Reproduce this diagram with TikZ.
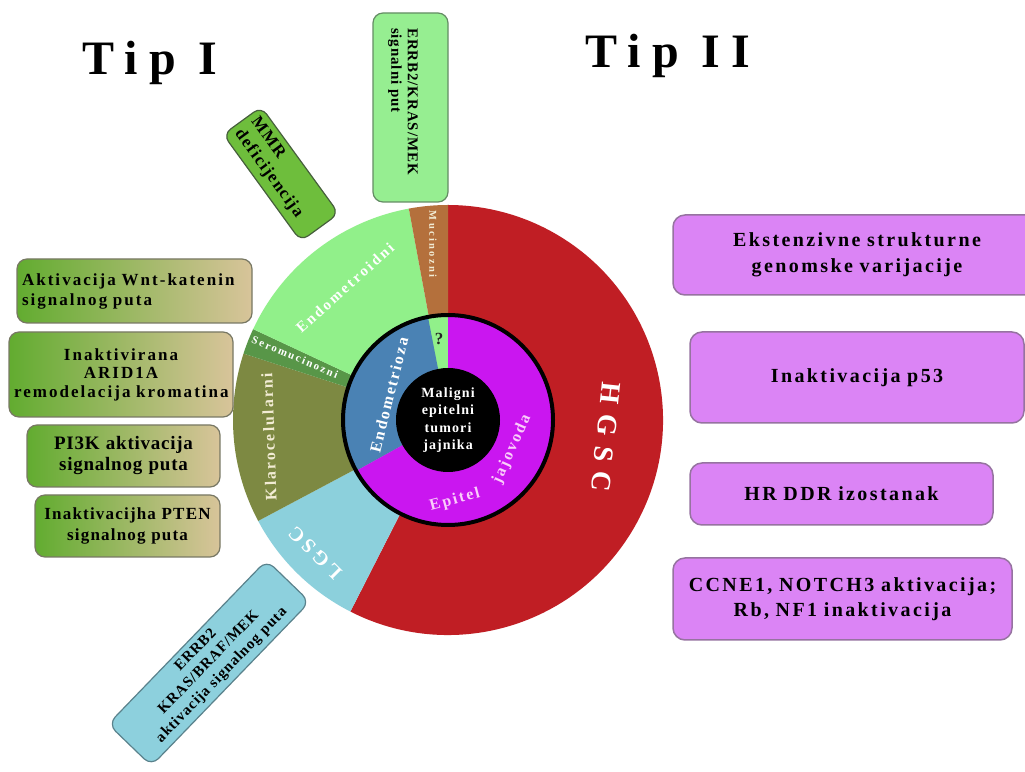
\documentclass[tikz,border=0pt]{standalone}
\usepackage{fontspec}
\setmainfont{Liberation Serif}
\newcommand\myfont[3]{\fontsize{#1}{#2}\selectfont\bfseries\addfontfeatures{LetterSpace=#3}}
\newcommand\mysector[4]{\fill[#1] (C) -- ++(#2:#4) arc[start angle=#2,end angle=#3,radius=#4] -- cycle;}
\definecolor{hgsc}{RGB}{192,30,36}
\definecolor{lgsc}{RGB}{140,208,220}
\definecolor{klaro}{RGB}{125,137,66}
\definecolor{sero}{RGB}{88,150,72}
\definecolor{endo}{RGB}{145,240,138}
\definecolor{muc}{RGB}{180,112,60}
\definecolor{endoz}{RGB}{74,130,180}
\definecolor{epit}{RGB}{202,22,240}
\definecolor{pinktxt}{RGB}{250,205,250}
\definecolor{creamtxt}{RGB}{242,236,212}
\definecolor{lgreen}{RGB}{98,172,48}
\definecolor{ltan}{RGB}{216,196,154}
\definecolor{lbord}{RGB}{120,120,100}
\definecolor{pbox}{RGB}{219,132,245}
\definecolor{pbord}{RGB}{150,115,160}
\definecolor{mmrfill}{RGB}{110,190,60}
\definecolor{mmrbord}{RGB}{70,95,60}
\definecolor{errfill}{RGB}{150,238,145}
\definecolor{errbord}{RGB}{100,140,100}
\definecolor{bluebox}{RGB}{141,208,221}
\definecolor{bluebord}{RGB}{90,130,140}
\begin{document}
\begin{tikzpicture}[x=1pt,y=1pt,
  leftbox/.style={draw=lbord, line width=1.2pt, rounded corners=10pt, left color=lgreen, right color=ltan, inner xsep=5pt, inner ysep=0pt, text=black},
  rightbox/.style={draw=pbord, line width=1.5pt, rounded corners=12pt, fill=pbox, inner xsep=5pt, inner ysep=0pt, align=center, font=\myfont{20}{26}{12}},
  ringtxt/.style={text=white, inner sep=0pt},
  title/.style={font=\myfont{48}{56}{23}, anchor=base, inner sep=0pt}]
\useasboundingbox (0,0) rectangle (1025,771);
\fill[white] (0,0) rectangle (1025,771);
\begin{scope}
\clip (0,0) rectangle (1025,771);
% titles
\node[title] (tip1) at (150,696) {Tip I};
\node[title] (tip2) at (668,703) {Tip II};
% outer ring
\coordinate (C) at (448,351);
\mysector{hgsc}{-117}{90}{215}
\mysector{lgsc}{208}{243}{215}
\mysector{klaro}{162}{208}{215}
\mysector{sero}{155}{162}{215}
\mysector{endo}{100.5}{155}{215}
\mysector{muc}{90}{100.5}{215}
% middle ring
\mysector{endo}{90}{101}{105}
\mysector{endoz}{101}{209}{105}
\mysector{epit}{209}{450}{105}
\draw[line width=4pt] (C) circle[radius=105];
\fill[black] (C) circle[radius=52];
% ring texts
\node[ringtxt, rotate=-96, font=\myfont{28}{30}{37}] (thgsc) at (606,334) {HGSC};
\node[ringtxt, rotate=135, font=\myfont{20}{22}{20}] (tlgsc) at (315,218) {LGSC};
\node[ringtxt, text=creamtxt, rotate=92, font=\myfont{16}{18}{13}] (tklaro) at (269,334) {Klarocelularni};
\node[ringtxt, rotate=-23, font=\myfont{11}{12}{17}] (tsero) at (295,414) {Seromucinozni};
\node[ringtxt, rotate=42, font=\myfont{15}{16}{16}] (tendo) at (345,483) {Endometroidni};
\node[ringtxt, text=creamtxt, rotate=-90, font=\myfont{10.5}{12}{22}] (tmuc) at (433,527) {Mucinozni};
\node[ringtxt, text=black!85, font=\myfont{17}{18}{0}] (tq) at (439,432) {?};
\node[ringtxt, rotate=76, font=\myfont{16}{18}{12}] (tendoz) at (389,376) {Endometrioza};
\node[ringtxt, text=pinktxt, rotate=15, font=\myfont{16}{18}{13}] (tepi) at (455,271) {Epitel};
\node[ringtxt, text=pinktxt, rotate=66, font=\myfont{16}{18}{13}] (tjaj) at (512,322) {jajovoda};
\node[ringtxt, align=center, font=\myfont{14}{17.5}{8}] (center) at (448,351) {Maligni\\epitelni\\tumori\\jajnika};
% left boxes
\node[leftbox, text width=225pt, minimum height=64pt, align=left, font=\myfont{17}{20}{12}] (l1) at (134.5,480) {Aktivacija Wnt-katenin\\signalnog puta};
\node[leftbox, text width=214pt, minimum height=85pt, align=center, font=\myfont{17}{18.5}{12}] (l2) at (121,396.5) {Inaktivirana\\ARID1A\\remodelacija kromatina};
\node[leftbox, text width=183pt, minimum height=62pt, align=center, font=\myfont{19}{21}{4}] (l3) at (123.5,315) {PI3K aktivacija\\signalnog puta};
\node[leftbox, text width=175pt, minimum height=62pt, align=center, font=\myfont{17}{21}{7}] (l4) at (127.5,245) {Inaktivacijha PTEN\\signalnog puta};
% top boxes
\node[draw=mmrbord, line width=1.2pt, fill=mmrfill, rounded corners=9pt, rotate=-54, text width=120pt, inner xsep=6pt, inner ysep=0pt, minimum height=47pt, align=left, font=\myfont{17}{20}{8}] (mmr) at (281,597) {MMR\\deficijencija};
\node[draw=errbord, line width=1.2pt, fill=errfill, rounded corners=10pt, rotate=-90, minimum width=189pt, minimum height=75pt] (errb) at (410.5,663.5) {};
\node[rotate=-90, align=left, inner sep=0pt, font=\myfont{15}{16.5}{6}] (errbt) at (403,669.5) {ERRB2/KRAS/MEK\\signalni put};
% bottom box
\node[draw=bluebord, line width=1.2pt, fill=bluebox, rounded corners=10pt, rotate=46, text width=218pt, inner xsep=5pt, inner ysep=0pt, minimum height=60pt, align=center, font=\myfont{15}{18}{6}] (bot) at (209,108) {ERRB2\\KRAS/BRAF/MEK\\aktivacija signalnog puta};
% right boxes
\node[rightbox, text width=358pt, minimum height=80pt] (r1) at (857,516) {Ekstenzivne strukturne\\genomske varijacije};
\node[rightbox, text width=324pt, minimum height=91pt] (r2) at (857,393.5) {Inaktivacija p53};
\node[rightbox, text width=293pt, minimum height=62pt] (r3) at (841.5,277) {HR DDR izostanak};
\node[rightbox, text width=329pt, minimum height=82pt, font=\myfont{20}{25}{12}] (r4) at (842.5,172) {CCNE1, NOTCH3 aktivacija;\\Rb, NF1 inaktivacija};
\end{scope}
\end{tikzpicture}
\end{document}
